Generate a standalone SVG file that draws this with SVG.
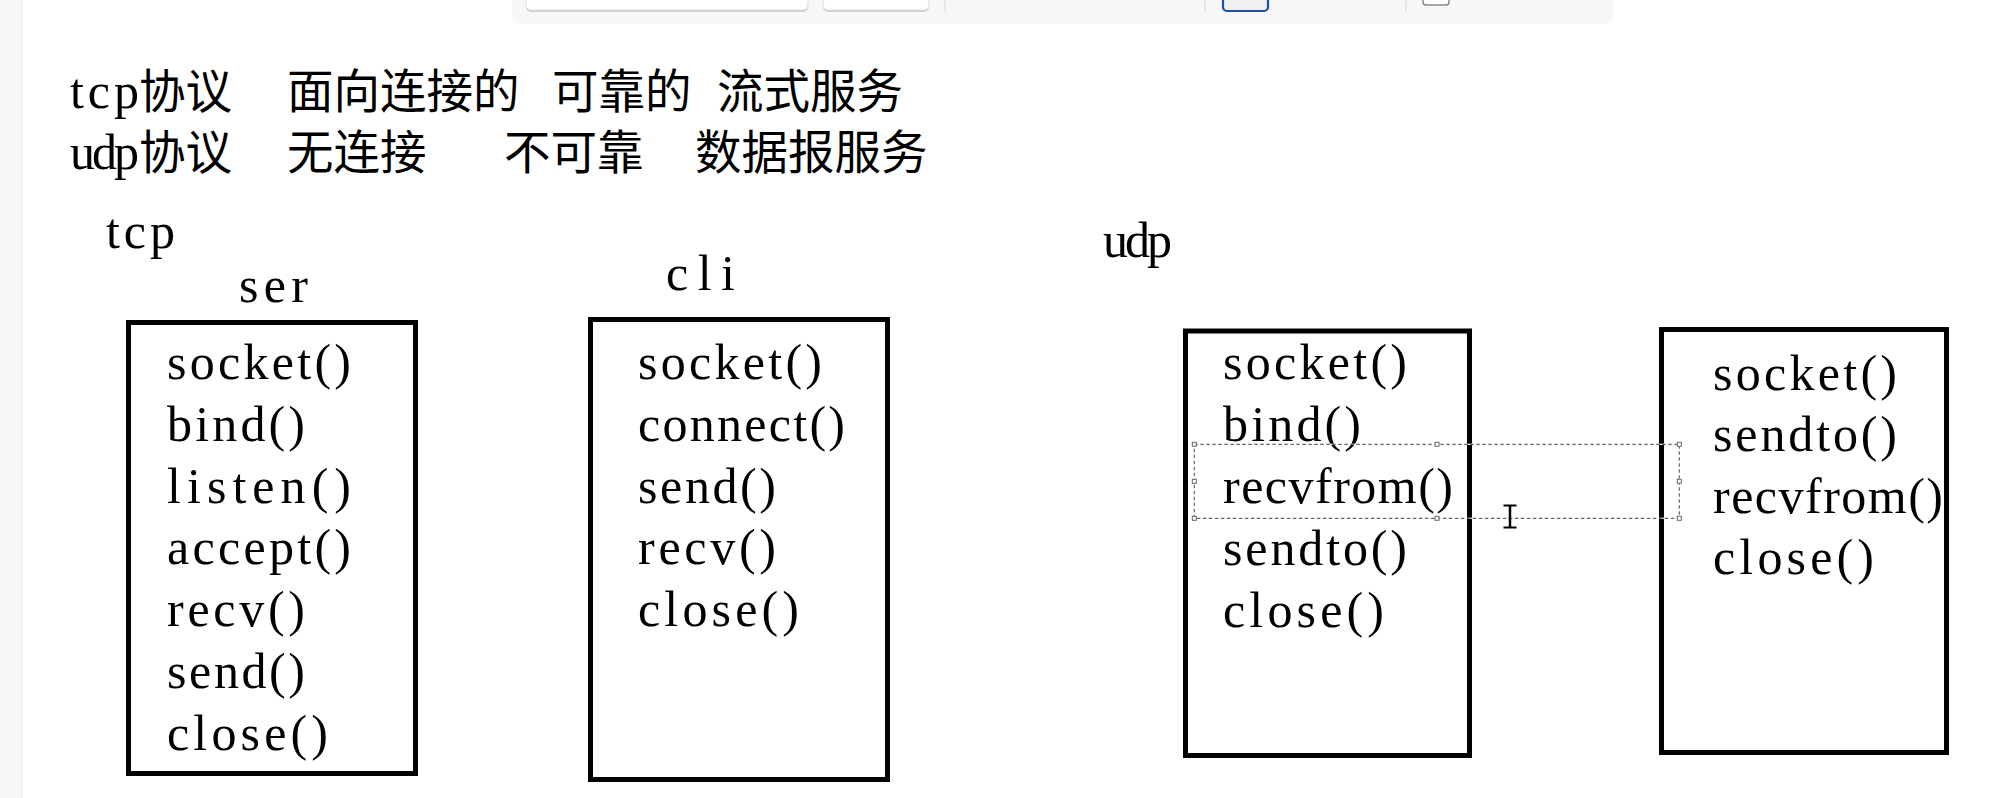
<svg xmlns="http://www.w3.org/2000/svg" width="2005" height="798" viewBox="0 0 2005 798">
<style>
.bg{fill:#ffffff}
.box{fill:none;stroke:#000;stroke-width:5}
.t{font-family:"Liberation Serif","Noto Sans CJK SC",serif;font-size:50px;fill:#000}
.h{font-family:"Liberation Serif","Noto Sans CJK SC",serif;font-size:50px;fill:#000}
.cjk{font-family:"Noto Sans CJK SC","Liberation Sans",sans-serif;font-size:46.5px;fill:#000}
.dash{fill:none;stroke:#666;stroke-width:1.2;stroke-dasharray:3.5 2.5}
.under{fill:none;stroke:#fff;stroke-width:1.2}
.handle{fill:#fff;stroke:#666;stroke-width:1}
.sep{stroke:#e2e2e2;stroke-width:1.5}
</style>
<rect class="bg" x="0" y="0" width="2005" height="798"/>
<rect x="0" y="0" width="22" height="798" fill="#f6f6f6"/>
<line x1="22.5" y1="0" x2="22.5" y2="798" stroke="#eeeeee" stroke-width="1"/>

<g id="toolbar">
<rect x="512" y="-12" width="1101" height="36" rx="10" fill="#f7f7f7"/>
<rect x="526" y="-8" width="282" height="20" rx="5" fill="#cfcfcf"/>
<rect x="526" y="-8" width="282" height="18" rx="5" fill="#ffffff" stroke="#dcdcdc" stroke-width="1"/>
<rect x="823" y="-8" width="106" height="20" rx="5" fill="#cfcfcf"/>
<rect x="823" y="-8" width="106" height="18" rx="5" fill="#ffffff" stroke="#dcdcdc" stroke-width="1"/>
<line class="sep" x1="945" y1="0" x2="945" y2="12"/>
<line class="sep" x1="1205" y1="0" x2="1205" y2="12"/>
<rect x="1223" y="-8" width="45" height="19" rx="4" fill="#f0f0f0" stroke="#1d4f9c" stroke-width="2.2"/>
<line class="sep" x1="1406" y1="0" x2="1406" y2="12"/>
<rect x="1423" y="-8" width="26" height="13" rx="3" fill="#ffffff" stroke="#8a8a8a" stroke-width="1.5"/>
</g>

<g id="header">
<text class="h" x="70" y="108" textLength="69" lengthAdjust="spacing">tcp</text>
<text class="cjk" x="139" y="108">协议</text>
<text class="cjk" x="287" y="108">面向连接的</text>
<text class="cjk" x="552" y="108">可靠的</text>
<text class="cjk" x="717" y="108">流式服务</text>
<text class="h" x="70" y="169" textLength="69" lengthAdjust="spacing">udp</text>
<text class="cjk" x="139" y="169">协议</text>
<text class="cjk" x="287" y="169">无连接</text>
<text class="cjk" x="504" y="169">不可靠</text>
<text class="cjk" x="695" y="169">数据报服务</text>
</g>

<g id="label-tcp"><text class="h" x="106" y="248" textLength="69" lengthAdjust="spacing">tcp</text></g>
<g id="label-udp"><text class="h" x="1103" y="257" textLength="69" lengthAdjust="spacing">udp</text></g>

<g id="tcp-ser">
<text class="h" x="239" y="302" textLength="69" lengthAdjust="spacing">ser</text>
<rect class="box" x="128.5" y="322.5" width="287" height="451"/>
<text class="t" x="167" y="379" textLength="184" lengthAdjust="spacing">socket()</text>
<text class="t" x="167" y="440.8" textLength="138" lengthAdjust="spacing">bind()</text>
<text class="t" x="167" y="502.6" textLength="184" lengthAdjust="spacing">listen()</text>
<text class="t" x="167" y="564.4" textLength="184" lengthAdjust="spacing">accept()</text>
<text class="t" x="167" y="626.2" textLength="138" lengthAdjust="spacing">recv()</text>
<text class="t" x="167" y="688" textLength="138" lengthAdjust="spacing">send()</text>
<text class="t" x="167" y="749.8" textLength="161" lengthAdjust="spacing">close()</text>
</g>

<g id="tcp-cli">
<text class="h" x="666" y="290" textLength="69" lengthAdjust="spacing">cli</text>
<rect class="box" x="590.5" y="319.5" width="297" height="460"/>
<text class="t" x="638" y="379" textLength="184" lengthAdjust="spacing">socket()</text>
<text class="t" x="638" y="440.8" textLength="207" lengthAdjust="spacing">connect()</text>
<text class="t" x="638" y="502.6" textLength="138" lengthAdjust="spacing">send()</text>
<text class="t" x="638" y="564.4" textLength="138" lengthAdjust="spacing">recv()</text>
<text class="t" x="638" y="626.2" textLength="161" lengthAdjust="spacing">close()</text>
</g>

<g id="udp-ser">
<rect class="box" x="1185.5" y="331" width="284" height="424.5"/>
<text class="t" x="1223" y="379" textLength="184" lengthAdjust="spacing">socket()</text>
<text class="t" x="1223" y="441" textLength="138" lengthAdjust="spacing">bind()</text>
<text class="t" x="1223" y="503" textLength="230" lengthAdjust="spacing">recvfrom()</text>
<text class="t" x="1223" y="565" textLength="184" lengthAdjust="spacing">sendto()</text>
<text class="t" x="1223" y="627" textLength="161" lengthAdjust="spacing">close()</text>
</g>

<g id="udp-cli">
<rect class="box" x="1661.5" y="329.5" width="285" height="423"/>
<text class="t" x="1713" y="389.5" textLength="184" lengthAdjust="spacing">socket()</text>
<text class="t" x="1713" y="451" textLength="184" lengthAdjust="spacing">sendto()</text>
<text class="t" x="1713" y="512.5" textLength="230" lengthAdjust="spacing">recvfrom()</text>
<text class="t" x="1713" y="574" textLength="161" lengthAdjust="spacing">close()</text>
</g>

<g id="selection">
<rect class="under" x="1194.3" y="444.3" width="485" height="74"/>
<rect class="dash" x="1194.3" y="444.3" width="485" height="74"/>
<rect class="handle" x="1192.3" y="442.3" width="4" height="4"/>
<rect class="handle" x="1435" y="442.3" width="4" height="4"/>
<rect class="handle" x="1677.3" y="442.3" width="4" height="4"/>
<rect class="handle" x="1192.3" y="479.3" width="4" height="4"/>
<rect class="handle" x="1677.3" y="479.3" width="4" height="4"/>
<rect class="handle" x="1192.3" y="516.3" width="4" height="4"/>
<rect class="handle" x="1435" y="516.3" width="4" height="4"/>
<rect class="handle" x="1677.3" y="516.3" width="4" height="4"/>
</g>

<g id="cursor" stroke="#000" fill="none">
<line x1="1510" y1="505" x2="1510" y2="528" stroke-width="2.5"/>
<line x1="1503.5" y1="505.5" x2="1516.5" y2="505.5" stroke-width="2"/>
<line x1="1503.5" y1="527.5" x2="1516.5" y2="527.5" stroke-width="2"/>
</g>
</svg>
